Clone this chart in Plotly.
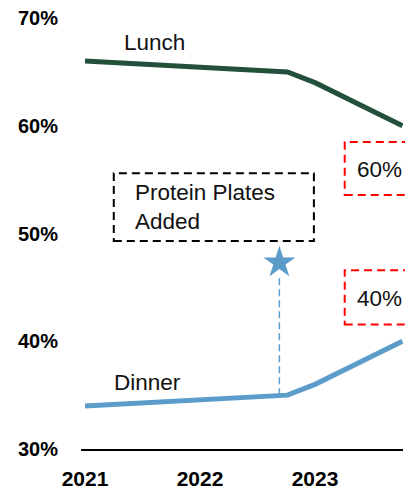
import plotly.graph_objects as go

# Data
x_points = [2021, 2022.76, 2023, 2023.76]
lunch = [66, 65, 64, 60]
dinner = [34, 35, 36, 40]
x_ticks = [2021, 2022, 2023]
x_tick_labels = ["2021", "2022", "2023"]
y_ticks = [30, 40, 50, 60, 70]
y_tick_labels = ["30%", "40%", "50%", "60%", "70%"]
event_x = 2022.69
event_star_y = 47.3
event_base_y = 35.0
event_text = "Protein Plates<br>Added"
end_labels = ["60%", "40%"]

LUNCH_C = "#22503a"
DINNER_C = "#5b9ccb"
FONT = "Liberation Sans"

fig = go.Figure()
fig.add_trace(go.Scatter(x=x_points, y=lunch, mode="lines",
                         line=dict(color=LUNCH_C, width=5), hoverinfo="skip"))
fig.add_trace(go.Scatter(x=x_points, y=dinner, mode="lines",
                         line=dict(color=DINNER_C, width=5), hoverinfo="skip"))
fig.add_trace(go.Scatter(x=[event_x, event_x], y=[event_base_y, event_star_y - 1.3], mode="lines",
                         line=dict(color=DINNER_C, width=1.5, dash="7px,4px"), hoverinfo="skip"))
fig.add_trace(go.Scatter(x=[event_x], y=[event_star_y], mode="markers",
                         marker=dict(symbol="star", size=24, color=DINNER_C, line=dict(width=0)),
                         hoverinfo="skip"))

shapes = [
    dict(type="rect", xref="x", yref="y", x0=2021.25, x1=2022.99, y0=49.3, y1=55.6,
         line=dict(color="black", width=2, dash="8px,5px"), fillcolor="rgba(0,0,0,0)"),
    dict(type="rect", xref="paper", yref="y", x0=0.819, x1=1.1, y0=53.57, y1=58.5,
         line=dict(color="#ff0000", width=2, dash="8px,5px"), fillcolor="rgba(0,0,0,0)"),
    dict(type="rect", xref="paper", yref="y", x0=0.819, x1=1.1, y0=41.55, y1=46.6,
         line=dict(color="#ff0000", width=2, dash="8px,5px"), fillcolor="rgba(0,0,0,0)"),
]

TF = dict(family=FONT, size=22.5, color="#111")
annotations = [
    dict(x=2021.6, y=67.7, text="Lunch", showarrow=False, xref="x", yref="y", font=TF),
    dict(x=2021.54, y=36.2, text="Dinner", showarrow=False, xref="x", yref="y", font=TF),
    dict(x=2021.42, y=52.46, text=event_text, showarrow=False, xref="x", yref="y",
         xanchor="left", align="left", font=TF),
    dict(x=2023.56, y=55.9, text=end_labels[0], showarrow=False, xref="x", yref="y", font=TF),
    dict(x=2023.56, y=44.0, text=end_labels[1], showarrow=False, xref="x", yref="y", font=TF),
]

fig.update_layout(
    width=405, height=491,
    margin=dict(l=81, r=2, t=18, b=42),
    paper_bgcolor="white", plot_bgcolor="white",
    showlegend=False,
    shapes=shapes, annotations=annotations,
    xaxis=dict(range=[2020.965, 2023.765], tickvals=x_ticks, ticktext=x_tick_labels,
               showgrid=False, zeroline=False, showline=True, linecolor="black", linewidth=2,
               ticks="", ticklabelstandoff=10,
               tickfont=dict(family=FONT, size=21, color="black", weight="bold")),
    yaxis=dict(range=[30, 70], tickvals=y_ticks, ticktext=y_tick_labels,
               showgrid=False, zeroline=False, showline=False, ticks="",
               ticklabelstandoff=22,
               tickfont=dict(family=FONT, size=20, color="black", weight="bold")),
)

fig.write_html("out.html")
